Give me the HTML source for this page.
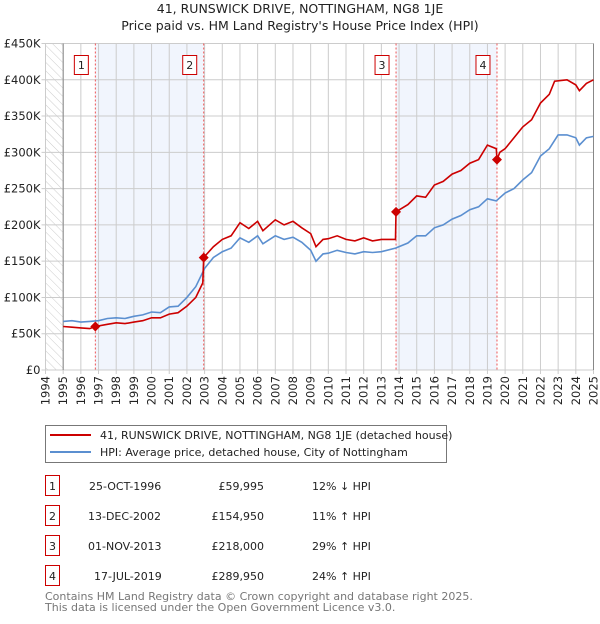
<!DOCTYPE html>
<html><head><meta charset="utf-8"><style>
body{margin:0;background:#fff;font-family:"DejaVu Sans","Liberation Sans",sans-serif;}
svg text{font-family:"DejaVu Sans","Liberation Sans",sans-serif;}
</style></head><body>
<svg id="c" width="600" height="620" viewBox="0 0 600 620" xmlns="http://www.w3.org/2000/svg">
<defs><pattern id="hatch" width="6" height="6" patternUnits="userSpaceOnUse" patternTransform="rotate(-45)"><line x1="0" y1="0" x2="0" y2="6" stroke="#ccc" stroke-width="1"/></pattern></defs>
<text x="300" y="13" text-anchor="middle" font-size="12.5" fill="#222">41, RUNSWICK DRIVE, NOTTINGHAM, NG8 1JE</text>
<text x="300" y="30" text-anchor="middle" font-size="12.5" fill="#222">Price paid vs. HM Land Registry's House Price Index (HPI)</text>
<g id="plot"></g>
<g>
<rect x="45.5" y="425.5" width="401" height="37" fill="#fff" stroke="#777"/>
<line x1="50" y1="435" x2="91" y2="435" stroke="#cc0000" stroke-width="2"/>
<text x="100" y="439" font-size="11" fill="#222">41, RUNSWICK DRIVE, NOTTINGHAM, NG8 1JE (detached house)</text>
<line x1="50" y1="452" x2="91" y2="452" stroke="#5b8fd0" stroke-width="2"/>
<text x="100" y="456" font-size="11" fill="#222">HPI: Average price, detached house, City of Nottingham</text>
</g>
<g font-size="11" fill="#222">
<g><rect x="45.5" y="475.5" width="14" height="20" fill="none" stroke="#cc0000"/><text x="52.5" y="490" text-anchor="middle">1</text><text x="89" y="490">25-OCT-1996</text><text x="264" y="490" text-anchor="end">£59,995</text><text x="312" y="490">12% ↓ HPI</text></g>
<g><rect x="45.5" y="505.5" width="14" height="20" fill="none" stroke="#cc0000"/><text x="52.5" y="520" text-anchor="middle">2</text><text x="88" y="520">13-DEC-2002</text><text x="264" y="520" text-anchor="end">£154,950</text><text x="312" y="520">11% ↑ HPI</text></g>
<g><rect x="45.5" y="535.5" width="14" height="20" fill="none" stroke="#cc0000"/><text x="52.5" y="550" text-anchor="middle">3</text><text x="88" y="550">01-NOV-2013</text><text x="264" y="550" text-anchor="end">£218,000</text><text x="312" y="550">29% ↑ HPI</text></g>
<g><rect x="45.5" y="565.5" width="14" height="20" fill="none" stroke="#cc0000"/><text x="52.5" y="580" text-anchor="middle">4</text><text x="94" y="580">17-JUL-2019</text><text x="264" y="580" text-anchor="end">£289,950</text><text x="312" y="580">24% ↑ HPI</text></g>
</g>
<text x="45" y="600" font-size="11" fill="#777">Contains HM Land Registry data © Crown copyright and database right 2025.</text>
<text x="45" y="611" font-size="11" fill="#777">This data is licensed under the Open Government Licence v3.0.</text>
</svg>
<script>
const yearTicks=[1994,1995,1996,1997,1998,1999,2000,2001,2002,2003,2004,2005,2006,2007,2008,2009,2010,2011,2012,2013,2014,2015,2016,2017,2018,2019,2020,2021,2022,2023,2024,2025];
const priceTicks=[0,50000,100000,150000,200000,250000,300000,350000,400000,450000];
const priceLabels=["£0","£50K","£100K","£150K","£200K","£250K","£300K","£350K","£400K","£450K"];
const hpiYears=[1995,1995.5,1996,1996.5,1997,1997.5,1998,1998.5,1999,1999.5,2000,2000.5,2001,2001.5,2002,2002.5,2003,2003.5,2004,2004.5,2005,2005.5,2006,2006.3,2007,2007.5,2008,2008.5,2009,2009.3,2009.7,2010,2010.5,2011,2011.5,2012,2012.5,2013,2013.8,2014.5,2015,2015.5,2016,2016.5,2017,2017.5,2018,2018.5,2019,2019.5,2020,2020.5,2021,2021.5,2022,2022.5,2023,2023.5,2024,2024.2,2024.6,2025];
const hpiValues=[67000,68000,66000,67000,68000,71000,72000,71000,74000,76000,80000,79000,87000,88000,100000,115000,140000,155000,163000,168000,182000,176000,185000,174000,185000,180000,183000,176000,165000,150000,160000,161000,165000,162000,160000,163000,162000,163000,168000,175000,185000,185000,196000,200000,208000,213000,221000,225000,236000,233000,244000,250000,262000,272000,295000,305000,324000,324000,320000,310000,320000,322000];
const ppYears=[1995,1995.5,1996,1996.5,1996.82,1997.5,1998,1998.5,1999,1999.5,2000,2000.5,2001,2001.5,2002,2002.5,2002.9,2002.95,2003.5,2004,2004.5,2005,2005.5,2006,2006.3,2007,2007.5,2008,2008.5,2009,2009.3,2009.7,2010,2010.5,2011,2011.5,2012,2012.5,2013,2013.8,2013.83,2014.5,2015,2015.5,2016,2016.5,2017,2017.5,2018,2018.5,2019,2019.5,2019.54,2019.7,2020,2020.5,2021,2021.5,2022,2022.5,2022.8,2023.5,2024,2024.2,2024.6,2025];
const ppValues=[60000,59000,58000,57000,60000,63000,65000,64000,66000,68000,72000,72000,77000,79000,88000,100000,120000,155000,170000,180000,185000,203000,195000,205000,192000,207000,200000,205000,196000,188000,170000,180000,181000,185000,180000,178000,182000,178000,180000,180000,218000,228000,240000,238000,255000,260000,270000,275000,285000,290000,310000,305000,290000,300000,305000,320000,335000,345000,368000,380000,398000,400000,393000,385000,395000,400000];
const saleYears=[1996.82,2002.95,2013.83,2019.54];
const salePrices=[59995,154950,218000,289950];
const saleLabels=["1","2","3","4"];

const NS="http://www.w3.org/2000/svg";
const X0=45.5,X1=593.5,Y0=370,Y1=43.5;
const xs=y=>X0+(y-1994)/(2025-1994)*(X1-X0);
const ys=v=>Y0-v/450000*(Y0-Y1);
const g=document.getElementById('plot');
function mk(t,a){const e=document.createElementNS(NS,t);for(const k in a)e.setAttribute(k,a[k]);g.appendChild(e);return e;}
// hatch pre-1995
let h=mk('rect',{x:X0,y:Y1,width:xs(1995)-X0,height:Y0-Y1,fill:'url(#hatch)'});


// shaded ownership periods
for(let i=0;i<saleYears.length;i+=2){
 const r=mk('rect',{x:xs(saleYears[i]),y:Y1,width:xs(saleYears[i+1])-xs(saleYears[i]),height:Y0-Y1,fill:'#eef3fc',opacity:0.8});
 
 
}
// grid
yearTicks.forEach(y=>{
 const l=mk('line',{x1:xs(y),x2:xs(y),y1:Y1,y2:Y0+4,stroke:'#ccc','stroke-width':1});
 
 
 const t=mk('text',{transform:`translate(${xs(y)+4},${Y0+6}) rotate(-90)`,'text-anchor':'end','font-size':11.5,fill:'#222'});
 t.textContent=y;
 
 
});
priceTicks.forEach((v,i)=>{
 const l=mk('line',{x1:X0-4,x2:X1,y1:ys(v),y2:ys(v),stroke:'#ccc','stroke-width':1});
 
 
 const t=mk('text',{x:X0-5,y:ys(v)+4,'text-anchor':'end','font-size':11.5,fill:'#222'});
 t.textContent=priceLabels[i];
 
 
});
let ax=mk('line',{x1:xs(1995),x2:xs(1995),y1:Y1,y2:Y0,stroke:'#888'});


let ax2=mk('line',{x1:X1,x2:X1,y1:Y1,y2:Y0,stroke:'#888'});


// sale vlines + labels
saleYears.forEach((y,i)=>{
 const l=mk('line',{x1:xs(y),x2:xs(y),y1:Y1,y2:Y0,stroke:'#ee5555','stroke-width':1,'stroke-dasharray':'2,2'});
 
 
 const b=mk('rect',{x:xs(y)-21,y:55.5,width:14,height:19,fill:'#fff',stroke:'#cc0000'});
 
 
 const t=mk('text',{x:xs(y)-14,y:69,'text-anchor':'middle','font-size':11,fill:'#222'});
 t.textContent=saleLabels[i];
 
 
});
function path(xa,va){return xa.map((y,i)=>(i?'L':'M')+xs(y).toFixed(1)+','+ys(va[i]).toFixed(1)).join(' ');}
let hp=mk('path',{d:path(hpiYears,hpiValues),fill:'none',stroke:'#5b8fd0','stroke-width':1.6});


let pp=mk('path',{d:path(ppYears,ppValues),fill:'none',stroke:'#cc0000','stroke-width':1.6});


saleYears.forEach((y,i)=>{
 const cx=xs(y),cy=ys(salePrices[i]);
 const d=mk('path',{d:`M${cx},${cy-5} L${cx+5},${cy} L${cx},${cy+5} L${cx-5},${cy} Z`,fill:'#cc0000'});
 
 
});
</script>
</body></html>
